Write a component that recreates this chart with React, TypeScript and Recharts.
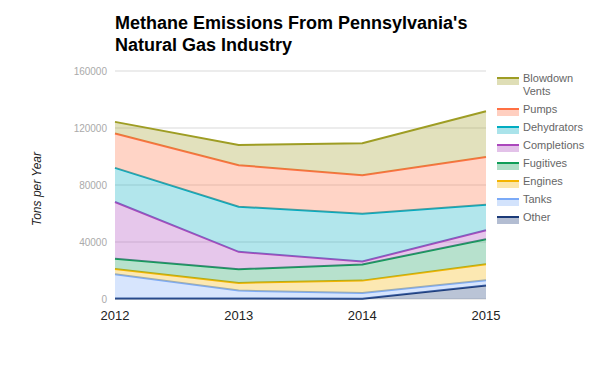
import React from "react";
import {
  AreaChart, Area, XAxis, YAxis, CartesianGrid,
} from "recharts";

// years on the x axis
const years = ["2012", "2013", "2014", "2015"];

// tons per year, each source
const other = [300, 300, 200, 9400];
const tanks = [17100, 5600, 4000, 3700];
const engines = [3700, 5400, 8700, 11300];
const fugitives = [7100, 9600, 11300, 17600];
const completions = [39900, 12200, 2100, 6300];
const dehydrators = [23900, 31700, 33500, 17800];
const pumps = [24100, 29100, 27000, 33500];
const blowdown = [8200, 14100, 22500, 32100];

const yTicks = [0, 40000, 80000, 120000, 160000];

// bottom of the stack first
const SERIES = [
  { key: "other", name: "Other", color: "#1b3a78", values: other },
  { key: "tanks", name: "Tanks", color: "#7baaf7", values: tanks },
  { key: "engines", name: "Engines", color: "#f4b400", values: engines },
  { key: "fugitives", name: "Fugitives", color: "#0f9d58", values: fugitives },
  { key: "completions", name: "Completions", color: "#ab47bc", values: completions },
  { key: "dehydrators", name: "Dehydrators", color: "#00acc1", values: dehydrators },
  { key: "pumps", name: "Pumps", color: "#ff7043", values: pumps },
  { key: "blowdown", name: "Blowdown Vents", color: "#9e9d24", values: blowdown },
];

const data = years.map((year, i) => {
  const row: Record<string, string | number> = { year };
  SERIES.forEach((s) => { row[s.key] = s.values[i]; });
  return row;
});

const FONT = "Arial, 'Liberation Sans', sans-serif";

function Legend() {
  const items = [...SERIES].reverse();
  return (
    <div style={{ position: "absolute", left: 497, top: 72, fontFamily: FONT, fontSize: 11, color: "#666" }}>
      {items.map((s) => (
        <div key={s.key} style={{ display: "flex", alignItems: "flex-start", marginBottom: 5 }}>
          <div style={{ width: 22, height: 6, marginTop: 5, borderTop: `2px solid ${s.color}`, background: s.color + "55", flexShrink: 0 }} />
          <div style={{ marginLeft: 4, width: 66, lineHeight: "13px" }}>{s.name}</div>
        </div>
      ))}
    </div>
  );
}

export default function App() {
  return (
    <div style={{ position: "absolute", left: 0, top: 0, width: 600, height: 371, background: "#fff", fontFamily: FONT }}>
      <div style={{ position: "absolute", left: 115, top: 12, fontSize: 18, fontWeight: "bold", lineHeight: "22px", color: "#000" }}>
        Methane Emissions From Pennsylvania's<br />Natural Gas Industry
      </div>
      <div style={{
        position: "absolute", left: 37, top: 189, transform: "translate(-50%, -50%) rotate(-90deg)",
        fontSize: 12, fontStyle: "italic", color: "#222", whiteSpace: "nowrap",
      }}>
        Tons per Year
      </div>
      <AreaChart width={600} height={371} data={data} margin={{ top: 71, right: 114, bottom: 42, left: 55 }}>
        <CartesianGrid vertical={false} stroke="#d9d9d9" />
        <XAxis
          dataKey="year"
          axisLine={false}
          tickLine={false}
          tickSize={0}
          tickMargin={12}
          height={30}
          tick={{ fontSize: 13, fill: "#222", fontFamily: FONT }}
        />
        <YAxis
          domain={[0, 160000]}
          ticks={yTicks}
          axisLine={false}
          tickLine={false}
          tickSize={0}
          tickMargin={8}
          width={60}
          tick={{ fontSize: 10, fill: "#aaa", fontFamily: FONT }}
        />
        {SERIES.map((s) => (
          <Area
            key={s.key}
            type="linear"
            dataKey={s.key}
            name={s.name}
            stackId="1"
            stroke={s.color}
            strokeWidth={2}
            fill={s.color}
            fillOpacity={0.3}
            isAnimationActive={false}
          />
        ))}
      </AreaChart>
      <Legend />
    </div>
  );
}
